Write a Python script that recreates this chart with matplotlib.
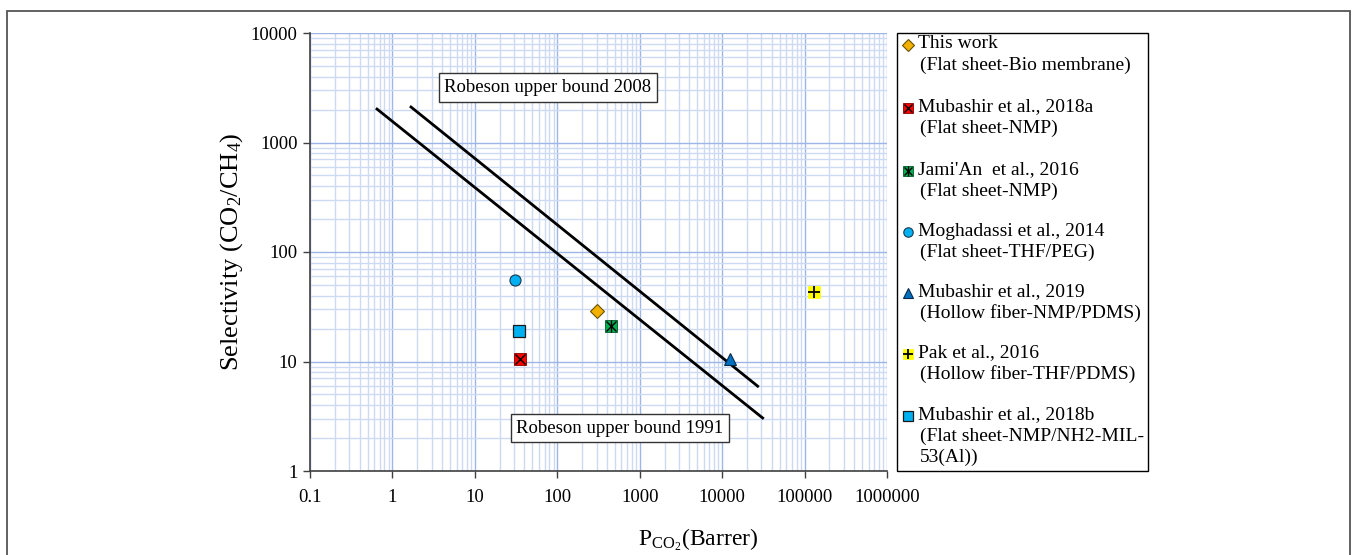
import matplotlib
matplotlib.use("Agg")
import matplotlib.pyplot as plt
from matplotlib.ticker import LogLocator, FuncFormatter, NullFormatter
from matplotlib.lines import Line2D
from matplotlib.patches import Rectangle

plt.rcParams['font.family'] = ['Liberation Serif', 'DejaVu Serif']
plt.rcParams['mathtext.fontset'] = 'custom'
plt.rcParams['mathtext.rm'] = 'Liberation Serif'
plt.rcParams['mathtext.it'] = 'Liberation Serif:italic'
plt.rcParams['mathtext.default'] = 'regular'

# ---- data ----
series_names = ["This work", "Mubashir et al., 2018a", "Jami'An  et al., 2016",
                "Moghadassi et al., 2014", "Mubashir et al., 2019", "Pak et al., 2016",
                "Mubashir et al., 2018b"]
series_notes = [["(Flat sheet-Bio membrane)"], ["(Flat sheet-NMP)"], ["(Flat sheet-NMP)"],
                ["(Flat sheet-THF/PEG)"], ["(Hollow fiber-NMP/PDMS)"],
                ["(Hollow fiber-THF/PDMS)"], ["(Flat sheet-NMP/NH2-MIL-", "53(Al))"]]
perm_co2 = [300, 35, 450, 31, 12500, 130000, 34]
selectivity = [29, 10.5, 21, 55, 10.5, 43, 19]

robeson1991_p = [0.65, 31000]
robeson1991_s = [2020, 3.05]
robeson2008_p = [1.68, 27000]
robeson2008_s = [2110, 5.95]

x_ticks = [0.1, 1, 10, 100, 1000, 10000, 100000, 1000000]
y_ticks = [1, 10, 100, 1000, 10000]

# ---- styles ----
styles = [
    [dict(marker='D', ms=7, mfc='#F2B100', mec='#6b5300', mew=0.8)],
    [dict(marker='s', ms=8, mfc='#FF0000', mec='#8b0000', mew=0.6),
     dict(marker='x', ms=7, mfc='none', mec='black', mew=1.0)],
    [dict(marker='s', ms=8, mfc='#00B050', mec='#005a2a', mew=0.6),
     dict(marker='x', ms=7, mfc='none', mec='black', mew=1.0),
     dict(marker='|', ms=8, mfc='none', mec='black', mew=1.0)],
    [dict(marker='o', ms=8, mfc='#00B0F0', mec='#1a3a50', mew=0.8)],
    [dict(marker='^', ms=8, mfc='#0070C0', mec='#0b2a4a', mew=0.8)],
    [dict(marker='s', ms=8, mfc='#FFFF00', mec='#FFFF00', mew=0.5),
     dict(marker='+', ms=9, mfc='none', mec='black', mew=1.3)],
    [dict(marker='s', ms=8, mfc='#00B0F0', mec='#1a1a1a', mew=0.9)],
]

fig = plt.figure(figsize=(13.57, 5.55), dpi=100)
ax = fig.add_axes([310/1357, 1-471/555, 577/1357, 438/555])
ax.set_xscale('log')
ax.set_yscale('log')
ax.set_xlim(x_ticks[0], x_ticks[-1])
ax.set_ylim(y_ticks[0], y_ticks[-1])

ax.set_xticks(x_ticks)
ax.set_yticks(y_ticks)
ax.xaxis.set_minor_locator(LogLocator(base=10, subs=range(2, 10), numticks=20))
ax.yaxis.set_minor_locator(LogLocator(base=10, subs=range(2, 10), numticks=20))
fmt = FuncFormatter(lambda v, p: f"{v:.10g}")
ax.xaxis.set_major_formatter(fmt)
ax.yaxis.set_major_formatter(fmt)
ax.xaxis.set_minor_formatter(NullFormatter())
ax.yaxis.set_minor_formatter(NullFormatter())

ax.grid(True, which='major', color='#9DB6E6', lw=1.0, zorder=0)
ax.grid(True, which='minor', color='#CDDAF4', lw=1.0, zorder=0)
ax.set_axisbelow(True)
for s in ['top', 'right']:
    ax.spines[s].set_visible(False)
for s in ['left', 'bottom']:
    ax.spines[s].set_color('#404040')
    ax.spines[s].set_linewidth(1.2)
ax.tick_params(which='major', direction='out', length=5, width=1.0, color='#404040',
               labelsize=13.5, pad=4)
ax.tick_params(which='minor', length=0)
ax.tick_params(axis='x', pad=8)

ax.plot(robeson1991_p, robeson1991_s, color='black', lw=2.0, zorder=3)
ax.plot(robeson2008_p, robeson2008_s, color='black', lw=2.0, zorder=3)

for i in range(len(series_names)):
    for st in styles[i]:
        ax.plot([perm_co2[i]], [selectivity[i]], ls='none', zorder=4, **st)

ax.text(0.4125, 0.8756, "Robeson upper bound 2008", transform=ax.transAxes,
        ha='center', va='center', fontsize=13.5, zorder=5,
        bbox=dict(boxstyle='square,pad=0.3', fc='white', ec='#333333', lw=1.0))
ax.text(0.537, 0.098, "Robeson upper bound 1991", transform=ax.transAxes,
        ha='center', va='center', fontsize=13.5, zorder=5,
        bbox=dict(boxstyle='square,pad=0.3', fc='white', ec='#333333', lw=1.0))

ax.set_ylabel('Selectivity (CO$_2$/CH$_4$)', fontsize=19, labelpad=4)
fig.text(698/1357, 1-540/555, r'P$_{CO_2}$(Barrer)', fontsize=17, ha='center', va='center')

# ---- legend (manual) ----
W, H = 1357, 555
fig.add_artist(Rectangle((897/W, 1-471/H), (1148-897)/W, (471-33)/H, transform=fig.transFigure,
                         fc='white', ec='black', lw=1.0, zorder=1))
first_y = [44, 107, 170, 231, 292, 353, 415]
line_gap = 21
for i, name in enumerate(series_names):
    y0 = first_y[i]
    for st in styles[i]:
        st2 = dict(st)
        st2['ms'] = st2['ms'] * 0.85
        fig.add_artist(Line2D([908/W], [1-(y0+1)/H], transform=fig.transFigure, ls='none',
                              zorder=3, **st2))
    fig.text(918/W, 1-y0/H, name, fontsize=14, ha='left', va='center', zorder=3)
    for j, note in enumerate(series_notes[i]):
        fig.text(920/W, 1-(y0+line_gap*(j+1))/H, note, fontsize=14, ha='left', va='center', zorder=3)

# outer frame
fig.add_artist(Rectangle((7/W, -0.05), (1350-7)/W, 1.05-11/H, transform=fig.transFigure,
                         fc='none', ec='#555555', lw=1.3, zorder=0))

fig.savefig('out.png', dpi=100)
